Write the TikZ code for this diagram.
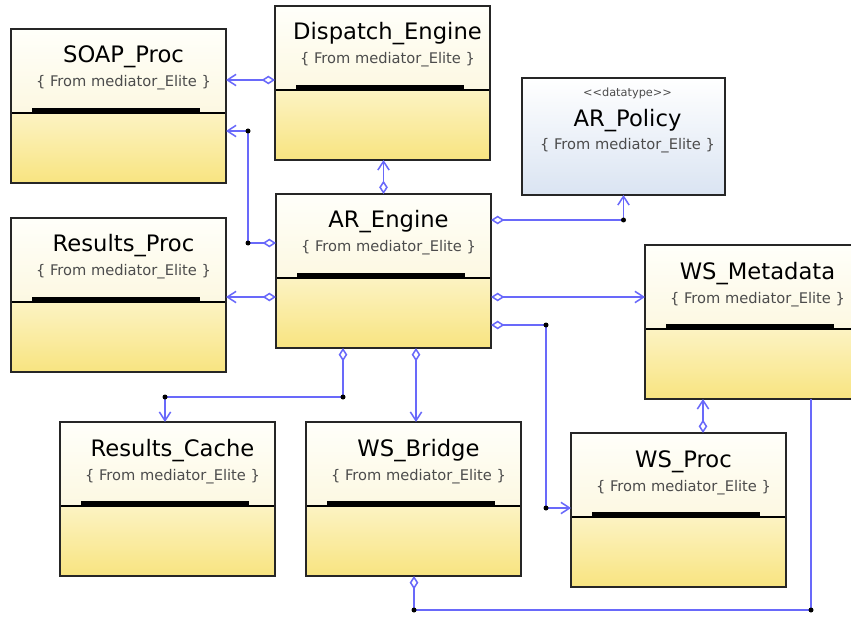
\documentclass[tikz,border=0pt]{standalone}
\usepackage{fontspec}
\setmainfont{DejaVu Sans}
\usetikzlibrary{arrows.meta,calc}
\newdimen\pxu \pxu=0.75pt
\definecolor{lineblue}{RGB}{105,105,250}
\definecolor{topA}{RGB}{255,255,250}
\definecolor{topB}{RGB}{250,242,205}
\definecolor{botA}{RGB}{252,243,195}
\definecolor{botB}{RGB}{248,228,128}
\definecolor{polA}{RGB}{255,255,255}
\definecolor{polB}{RGB}{218,228,242}
\tikzset{
  classbox/.style={draw=black!85, line width=1.6\pxu, minimum width=215\pxu, minimum height=154\pxu,
    anchor=north west, inner sep=0pt, outer sep=0pt,
    path picture={
      \shade[top color=topA,bottom color=topB] (path picture bounding box.north west) rectangle ([yshift=-84\pxu]path picture bounding box.north east);
      \shade[top color=botA,bottom color=botB] ([yshift=-84\pxu]path picture bounding box.north west) rectangle (path picture bounding box.south east);
      \fill[black] ([xshift=21\pxu,yshift=-79\pxu]path picture bounding box.north west) rectangle ([xshift=-26\pxu,yshift=-84\pxu]path picture bounding box.north east);
      \draw[black, line width=2.6\pxu] ([yshift=-84\pxu]path picture bounding box.north west) -- ([yshift=-84\pxu]path picture bounding box.north east);
    }},
  policybox/.style={draw=black!85, line width=1.6\pxu, minimum width=203\pxu, minimum height=117\pxu,
    anchor=north west, inner sep=0pt, outer sep=0pt, top color=polA, bottom color=polB},
  ctitle/.style={anchor=base, inner sep=0pt, font=\fontsize{17}{20}\selectfont, text=black},
  csub/.style={anchor=base, inner sep=0pt, font=\fontsize{11}{13}\selectfont, text=black!70},
  cstereo/.style={anchor=base, inner sep=0pt, font=\fontsize{8.5}{10}\selectfont, text=black!70},
  conn/.style={draw=lineblue, line width=1.15pt},
  agg/.style={conn, {Diamond[open, fill=white, length=10pt, width=6.5pt]}-{Straight Barb[length=6.5pt, width=8.5pt]}},
  aggonly/.style={conn, {Diamond[open, fill=white, length=10pt, width=6.5pt]}-},
  junction/.style={fill=black},
}
\begin{document}
\begin{tikzpicture}[x=0.75pt, y=-0.75pt]
\useasboundingbox (0,0) rectangle (851,617);
\clip (0,0) rectangle (851,617);

% boxes
\node[classbox] (SOAP) at (11,29) {};
\node[classbox] (DE) at (275,6) {};
\node[policybox] (AP) at (522,78) {};
\node[classbox] (ARE) at (276,194) {};
\node[classbox] (RP) at (11,218) {};
\node[classbox] (WSM) at (645,245) {};
\node[classbox] (RC) at (60,422) {};
\node[classbox] (WSB) at (306,422) {};
\node[classbox] (WSP) at (571,433) {};

% texts
\node[ctitle] (SOAPt) at ([xshift=5\pxu,yshift=-34\pxu]SOAP.north) {SOAP\_Proc};
\node[csub] (SOAPs) at ([xshift=5\pxu,yshift=-58\pxu]SOAP.north) {\{ From mediator\_Elite \}};
\node[ctitle] (DEt) at ([xshift=5\pxu,yshift=-34\pxu]DE.north) {Dispatch\_Engine};
\node[csub] (DEs) at ([xshift=5\pxu,yshift=-58\pxu]DE.north) {\{ From mediator\_Elite \}};
\node[cstereo] (APst) at ([xshift=4\pxu,yshift=-19\pxu]AP.north) {<\kern0pt<datatype>\kern0pt>};
\node[ctitle] (APt) at ([xshift=4\pxu,yshift=-49\pxu]AP.north) {AR\_Policy};
\node[csub] (APs) at ([xshift=4\pxu,yshift=-72\pxu]AP.north) {\{ From mediator\_Elite \}};
\node[ctitle] (AREt) at ([xshift=5\pxu,yshift=-34\pxu]ARE.north) {AR\_Engine};
\node[csub] (AREs) at ([xshift=5\pxu,yshift=-58\pxu]ARE.north) {\{ From mediator\_Elite \}};
\node[ctitle] (RPt) at ([xshift=5\pxu,yshift=-34\pxu]RP.north) {Results\_Proc};
\node[csub] (RPs) at ([xshift=5\pxu,yshift=-58\pxu]RP.north) {\{ From mediator\_Elite \}};
\node[ctitle] (WSMt) at ([xshift=5\pxu,yshift=-34\pxu]WSM.north) {WS\_Metadata};
\node[csub] (WSMs) at ([xshift=5\pxu,yshift=-58\pxu]WSM.north) {\{ From mediator\_Elite \}};
\node[ctitle] (RCt) at ([xshift=5\pxu,yshift=-34\pxu]RC.north) {Results\_Cache};
\node[csub] (RCs) at ([xshift=5\pxu,yshift=-58\pxu]RC.north) {\{ From mediator\_Elite \}};
\node[ctitle] (WSBt) at ([xshift=5\pxu,yshift=-34\pxu]WSB.north) {WS\_Bridge};
\node[csub] (WSBs) at ([xshift=5\pxu,yshift=-58\pxu]WSB.north) {\{ From mediator\_Elite \}};
\node[ctitle] (WSPt) at ([xshift=5\pxu,yshift=-34\pxu]WSP.north) {WS\_Proc};
\node[csub] (WSPs) at ([xshift=5\pxu,yshift=-58\pxu]WSP.north) {\{ From mediator\_Elite \}};

% connector points
\coordinate (p1) at ([yshift=-74\pxu]DE.north west);
\coordinate (p2) at ([yshift=-49\pxu]ARE.north west);
\coordinate (j2a) at (248,243);
\coordinate (j2b) at (248,131);
\coordinate (p3) at ([yshift=-103\pxu]ARE.north west);
\coordinate (p5) at ([yshift=-26\pxu]ARE.north east);
\coordinate (j5) at (p5 -| AP.south);
\coordinate (p6) at ([yshift=-103\pxu]ARE.north east);
\coordinate (p7) at ([yshift=-131\pxu]ARE.north east);
\coordinate (j7a) at (546,325);
\coordinate (q7) at ([yshift=-75\pxu]WSP.north west);
\coordinate (j7b) at (j7a |- q7);
\coordinate (p8) at ([xshift=67\pxu]ARE.south west);
\coordinate (j8a) at (343,397);
\coordinate (j8b) at (165,397);
\coordinate (p9) at ([xshift=140\pxu]ARE.south west);
\coordinate (p10) at ([xshift=132\pxu]WSP.north west);
\coordinate (p11) at ([xshift=108\pxu]WSB.south west);
\coordinate (j11a) at (414,610);
\coordinate (j11b) at (811,610);

% connectors
\draw[agg] (p1) -- (p1 -| SOAP.east);
\draw[agg] (p2) -- (j2a) -- (j2b) -- (j2b -| SOAP.east);
\draw[agg] (p3) -- (p3 -| RP.east);
\draw[agg] (ARE.north) -- (ARE.north |- DE.south);
\draw[agg] (p5) -- (j5) -- (AP.south);
\draw[agg] (p6) -- (p6 -| WSM.west);
\draw[agg] (p7) -- (j7a) -- (j7b) -- (q7);
\draw[agg] (p8) -- (j8a) -- (j8b) -- (j8b |- RC.north);
\draw[agg] (p9) -- (p9 |- WSB.north);
\draw[agg] (p10) -- (p10 |- WSM.south);
\draw[aggonly] (p11) -- (j11a) -- (j11b) -- (j11b |- WSM.south);

% junction dots
\foreach \j in {j2a,j2b,j5,j7a,j7b,j8a,j8b,j11a,j11b}
  \fill[junction] (\j) circle[radius=2.5\pxu];
\end{tikzpicture}
\end{document}
